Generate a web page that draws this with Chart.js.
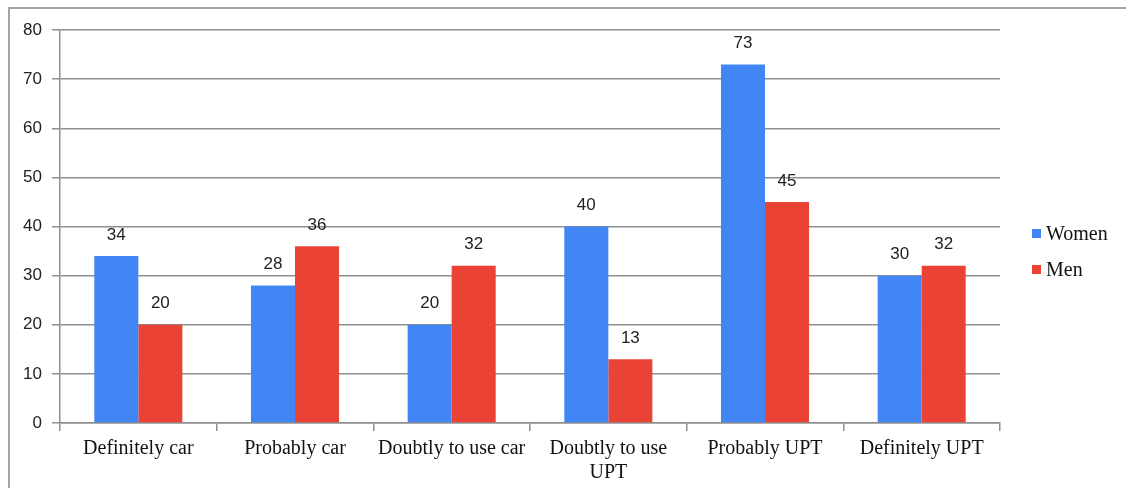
<!DOCTYPE html>
<html>
<head>
<meta charset="utf-8">
<style>
  html, body { margin: 0; padding: 0; background: #fff; }
  #wrap { position: relative; width: 1126px; height: 488px; overflow: hidden; }
  #frame { position: absolute; left: 8px; top: 7px; width: 1300px; height: 600px;
           border-left: 2px solid #a6a6a6; border-top: 2px solid #a6a6a6; }
  #chartBox { position: absolute; left: 0; top: 0; width: 1126px; height: 488px; }
</style>
</head>
<body>
<script src="https://cdn.jsdelivr.net/npm/chart.js/dist/chart.umd.min.js"></script>
<div id="wrap">
  <div id="frame"></div>
  <div id="chartBox"><canvas id="chartContainer"></canvas></div>
</div>

<script>
    // survey answers, percent of respondents
    const categories = ['Definitely car', 'Probably car', 'Doubtly to use car', ['Doubtly to use', 'UPT'], 'Probably UPT', 'Definitely UPT'];
    const women = [34, 28, 20, 40, 73, 30];
    const men = [20, 36, 32, 13, 45, 32];
    const yTicks = { min: 0, max: 80, step: 10 };

    const gridColor = '#8f8f8f';

    // numbers above each bar
    const valueLabels = {
        id: 'valueLabels',
        afterDatasetsDraw(chart) {
            const ctx = chart.ctx;
            ctx.save();
            ctx.font = '17px "Liberation Sans"';
            ctx.fillStyle = '#222';
            ctx.textAlign = 'center';
            ctx.textBaseline = 'middle';
            chart.data.datasets.forEach((ds, i) => {
                chart.getDatasetMeta(i).data.forEach((bar, j) => {
                    ctx.fillText(ds.data[j], bar.x, bar.y - 21);
                });
            });
            ctx.restore();
        }
    };

    // legend on the right, small squares + serif names
    const sideLegend = {
        id: 'sideLegend',
        afterDraw(chart) {
            const ctx = chart.ctx;
            const x = chart.chartArea.right + 32;
            let y = chart.chartArea.top + 204;
            ctx.save();
            ctx.font = '20px "Liberation Serif"';
            ctx.textBaseline = 'middle';
            chart.data.datasets.forEach(ds => {
                ctx.fillStyle = ds.backgroundColor;
                ctx.fillRect(x, y - 5, 9, 9);
                ctx.fillStyle = '#111';
                ctx.fillText(ds.label, x + 14, y + 1);
                y += 36;
            });
            ctx.restore();
        }
    };

    new Chart('chartContainer', {
        type: 'bar',
        data: {
            labels: categories,
            datasets: [{
                label: 'Women',
                data: women,
                backgroundColor: '#4285f4',
                borderWidth: 0
            }, {
                label: 'Men',
                data: men,
                backgroundColor: '#ea4335',
                borderWidth: 0
            }]
        },
        plugins: [valueLabels, sideLegend],
        options: {
            responsive: true,
            maintainAspectRatio: false,
            animation: false,
            layout: { padding: { top: 30, right: 126, left: 0, bottom: 0 } },
            datasets: { bar: { categoryPercentage: 0.562, barPercentage: 1 } },
            plugins: {
                legend: { display: false },
                tooltip: { enabled: false }
            },
            scales: {
                x: {
                    afterFit(scale) { scale.height = 65; },
                    grid: {
                        drawOnChartArea: false,
                        drawTicks: true,
                        tickLength: 8,
                        color: gridColor,
                        lineWidth: 1.5
                    },
                    border: { color: gridColor, width: 1.5 },
                    ticks: {
                        color: '#111',
                        padding: 6,
                        maxRotation: 0,
                        autoSkip: false,
                        font: { family: '"Liberation Serif"', size: 20, lineHeight: 1.2 }
                    }
                },
                y: {
                    min: yTicks.min,
                    max: yTicks.max,
                    afterFit(scale) { scale.width = 60; },
                    grid: {
                        color: gridColor,
                        lineWidth: 1.5,
                        tickLength: 8
                    },
                    border: { color: gridColor, width: 1.5 },
                    ticks: {
                        stepSize: yTicks.step,
                        color: '#222',
                        padding: 10,
                        font: { family: '"Liberation Sans"', size: 17 }
                    }
                }
            }
        }
    });
</script>
</body>
</html>
